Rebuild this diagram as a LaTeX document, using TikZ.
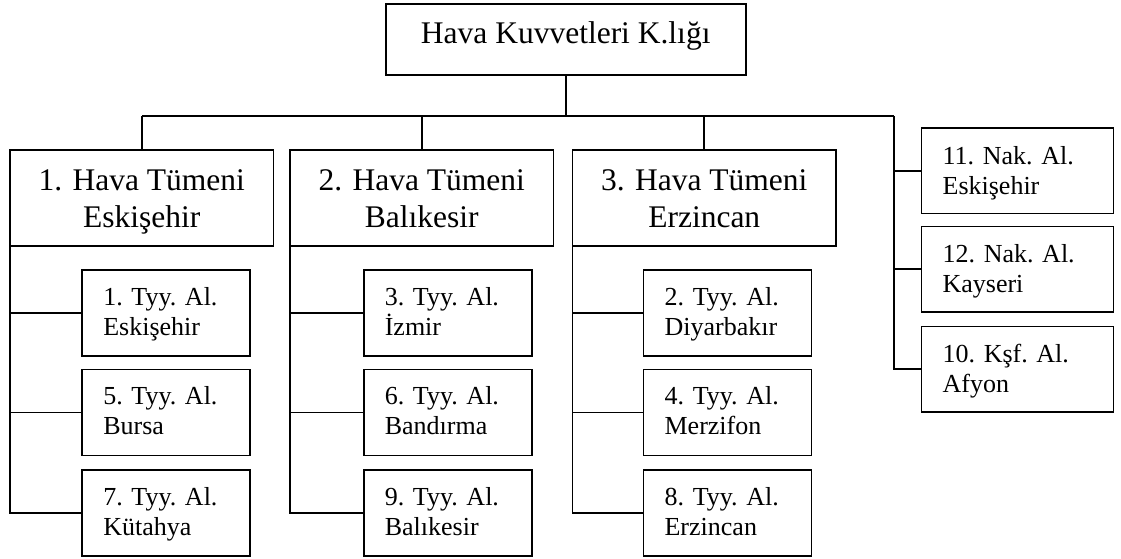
\documentclass[tikz,border=0pt]{standalone}
\usepackage{fontspec}
\setmainfont{Liberation Serif}
\usetikzlibrary{calc}
\newcommand\bigfnt{\fontsize{31.5}{37}\selectfont}
\newcommand\smfnt{\fontsize{26}{30}\selectfont}
\begin{document}
\begin{tikzpicture}[x=1pt,y=-1pt,
  box/.style={draw,line width=1.8pt,inner sep=0pt,outer sep=0pt,anchor=north west},
  hqbox/.style={box,minimum width=360pt,minimum height=71pt},
  divbox/.style={box,minimum width=263.5pt,minimum height=96pt},
  subbox/.style={box,minimum width=168pt,minimum height=86pt},
  sidebox/.style={box,minimum width=192pt,minimum height=85.5pt},
  conn/.style={line width=1.8pt},
  bigtxt/.style={inner sep=0pt,anchor=base,font=\bigfnt},
  smtxt/.style={inner sep=0pt,anchor=base west,font=\smfnt}]
\useasboundingbox (0,0) rectangle (1121,558);
% boxes
\node[hqbox] (hq) at (385.7,4) {};
\node[divbox] (d1) at (10,150) {};
\node[divbox] (d2) at (290,150) {};
\node[divbox] (d3) at (572.5,150) {};
\node[subbox] (s1) at (82.1,270) {};
\node[subbox] (s5) at (82.1,369.5) {};
\node[subbox] (s7) at (82.1,470) {};
\node[subbox] (s3) at (363.6,270) {};
\node[subbox] (s6) at (363.6,369.5) {};
\node[subbox] (s9) at (363.6,470) {};
\node[subbox] (s2) at (643.4,270) {};
\node[subbox] (s4) at (643.4,369.5) {};
\node[subbox] (s8) at (643.4,470) {};
\node[sidebox] (r11) at (921.4,128) {};
\node[sidebox] (r12) at (921.4,226.5) {};
\node[sidebox] (r10) at (921.4,326.5) {};
% texts
\node[bigtxt] (hqt) at ($(hq.north)+(0,39.3)$) {Hava Kuvvetleri K.lığı};
\node[bigtxt] (d1t) at ($(d1.north)+(0,40)$) {\begin{tabular}[t]{@{}c@{}}1. Hava Tümeni\\Eskişehir\end{tabular}};
\node[bigtxt] (d2t) at ($(d2.north)+(0,40)$) {\begin{tabular}[t]{@{}c@{}}2. Hava Tümeni\\Balıkesir\end{tabular}};
\node[bigtxt] (d3t) at ($(d3.north)+(0,40)$) {\begin{tabular}[t]{@{}c@{}}3. Hava Tümeni\\Erzincan\end{tabular}};
\node[smtxt] (s1t) at ($(s1.north west)+(21,35)$) {\begin{tabular}[t]{@{}l@{}}1. Tyy. Al.\\Eskişehir\end{tabular}};
\node[smtxt] (s5t) at ($(s5.north west)+(21,35)$) {\begin{tabular}[t]{@{}l@{}}5. Tyy. Al.\\Bursa\end{tabular}};
\node[smtxt] (s7t) at ($(s7.north west)+(21,35)$) {\begin{tabular}[t]{@{}l@{}}7. Tyy. Al.\\Kütahya\end{tabular}};
\node[smtxt] (s3t) at ($(s3.north west)+(21,35)$) {\begin{tabular}[t]{@{}l@{}}3. Tyy. Al.\\İzmir\end{tabular}};
\node[smtxt] (s6t) at ($(s6.north west)+(21,35)$) {\begin{tabular}[t]{@{}l@{}}6. Tyy. Al.\\Bandırma\end{tabular}};
\node[smtxt] (s9t) at ($(s9.north west)+(21,35)$) {\begin{tabular}[t]{@{}l@{}}9. Tyy. Al.\\Balıkesir\end{tabular}};
\node[smtxt] (s2t) at ($(s2.north west)+(21,35)$) {\begin{tabular}[t]{@{}l@{}}2. Tyy. Al.\\Diyarbakır\end{tabular}};
\node[smtxt] (s4t) at ($(s4.north west)+(21,35)$) {\begin{tabular}[t]{@{}l@{}}4. Tyy. Al.\\Merzifon\end{tabular}};
\node[smtxt] (s8t) at ($(s8.north west)+(21,35)$) {\begin{tabular}[t]{@{}l@{}}8. Tyy. Al.\\Erzincan\end{tabular}};
\node[smtxt] (r11t) at ($(r11.north west)+(21,36)$) {\begin{tabular}[t]{@{}l@{}}11. Nak. Al.\\Eskişehir\end{tabular}};
\node[smtxt] (r12t) at ($(r12.north west)+(21,36)$) {\begin{tabular}[t]{@{}l@{}}12. Nak. Al.\\Kayseri\end{tabular}};
\node[smtxt] (r10t) at ($(r10.north west)+(21,36)$) {\begin{tabular}[t]{@{}l@{}}10. Kşf. Al.\\Afyon\end{tabular}};
% connectors
\coordinate (busL) at (142,116);
\coordinate (busR) at (894,116);
\draw[conn] (hq.south) -- (hq.south |- busL);
\draw[conn] (busL) -- (busR);
\draw[conn] (d1.north) -- (d1.north |- busL);
\draw[conn] (d2.north) -- (d2.north |- busL);
\draw[conn] (d3.north) -- (d3.north |- busL);
\draw[conn] (busR) |- (r10.west);
\draw[conn] (r11.west -| busR) -- (r11.west);
\draw[conn] (r12.west -| busR) -- (r12.west);
\draw[conn] (d1.south west) |- (s7.west);
\draw[conn] (s1.west -| d1.south west) -- (s1.west);
\draw[conn] (s5.west -| d1.south west) -- (s5.west);
\draw[conn] (d2.south west) |- (s9.west);
\draw[conn] (s3.west -| d2.south west) -- (s3.west);
\draw[conn] (s6.west -| d2.south west) -- (s6.west);
\draw[conn] (d3.south west) |- (s8.west);
\draw[conn] (s2.west -| d3.south west) -- (s2.west);
\draw[conn] (s4.west -| d3.south west) -- (s4.west);
\end{tikzpicture}
\end{document}
